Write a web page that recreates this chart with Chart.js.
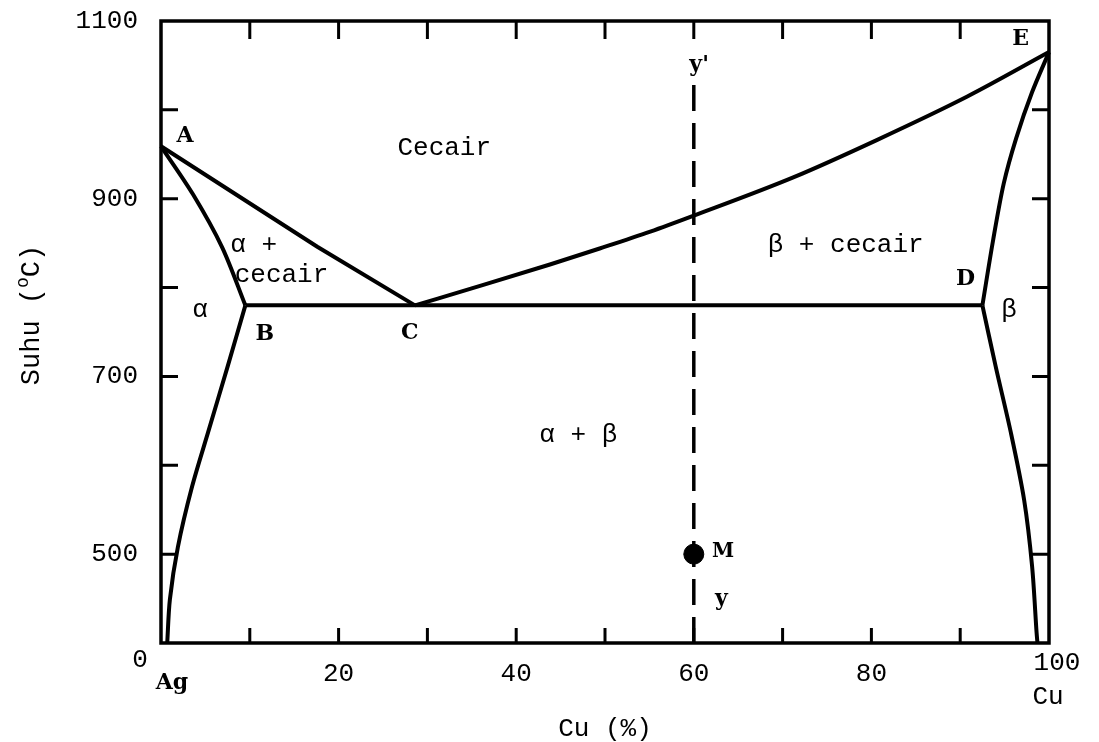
<!DOCTYPE html>
<html>
<head>
<meta charset="utf-8">
<script src="https://cdn.jsdelivr.net/npm/chart.js@4.4.1/dist/chart.umd.min.js"></script>
<style>
    html, body { margin: 0; padding: 0; background: #fff; }
    canvas { display: block; }
</style>
</head>
<body>
<canvas id="phaseChart" width="1099" height="742"></canvas>
<script>
// Ag-Cu phase diagram, points are [Cu %, suhu °C]
const liquidusAC = [[0, 959], [17.6, 846], [28.6, 780]];
const liquidusCE = [[28.6, 780], [36.3, 803], [43.8, 826], [49.4, 844], [55.1, 863], [60, 881],
                    [71.2, 924], [80.6, 966], [90.8, 1015], [100, 1065]];
const solidusAB = [[0, 959], [3.6, 905], [6.9, 845], [9.5, 780]];
const solvusB = [[9.5, 780], [7.5, 711], [5.3, 637], [3.5, 576], [1.9, 508], [1.0, 449], [0.7, 400]];
const eutectic = [[9.5, 780], [92.5, 780]];
const solidusDE = [[92.5, 780], [93.7, 853], [94.9, 917], [96.3, 968], [98.1, 1020], [100, 1065]];
const solvusD = [[92.5, 780], [94.0, 711], [95.7, 637], [97.2, 561], [98.1, 486], [98.6, 412], [98.7, 400]];
const lineYY = [[60, 400], [60, 1037]];
const pointM = [[60, 500]];

const xTicks = [0, 10, 20, 30, 40, 50, 60, 70, 80, 90, 100];
const xTickLabels = { 20: '20', 40: '40', 60: '60', 80: '80' };
const yTicks = [400, 500, 600, 700, 800, 900, 1000, 1100];
const yTickLabels = { 500: '500', 700: '700', 900: '900', 1100: '1100' };

const MONO = '"Liberation Mono", "DejaVu Sans Mono", monospace';
const SERIF = '"DejaVu Serif", "Liberation Serif", serif';

// region / point labels: [text, x, y, font, align]
const annotations = [
    ['A', 2.7, 970, 'bold 22px ' + SERIF, 'center'],
    ['Cecair', 31.9, 957, '26px ' + MONO, 'center'],
    ['\u03b1 +', 7.8, 848, '26px ' + MONO, 'left'],
    ['cecair', 8.3, 814, '26px ' + MONO, 'left'],
    ['\u03b1', 4.4, 775, '26px ' + MONO, 'center'],
    ['B', 11.7, 747, 'bold 22px ' + SERIF, 'center'],
    ['C', 28, 749, 'bold 22px ' + SERIF, 'center'],
    ['D', 90.6, 809, 'bold 22px ' + SERIF, 'center'],
    ['\u03b2', 95.5, 775, '26px ' + MONO, 'center'],
    ['E', 96.8, 1079, 'bold 22px ' + SERIF, 'center'],
    ["y'", 60.6, 1050, 'bold 22px ' + SERIF, 'center'],
    ['\u03b2 + cecair', 77.1, 848, '26px ' + MONO, 'center'],
    ['\u03b1 + \u03b2', 47, 634, '26px ' + MONO, 'center'],
    ['M', 63.3, 503, 'bold 20px ' + SERIF, 'center'],
    ['y', 63.1, 449, 'bold 22px ' + SERIF, 'center']
];

const toPts = arr => arr.map(p => ({ x: p[0], y: p[1] }));

// mode: 'straight', 'monotone' or a spline tension number
function curve(data, mode) {
    return {
        data: toPts(data),
        showLine: true,
        borderColor: '#000',
        borderWidth: 4,
        pointRadius: 0,
        fill: false,
        cubicInterpolationMode: mode === 'monotone' ? 'monotone' : 'default',
        tension: typeof mode === 'number' ? mode : 0,
        clip: false
    };
}

// frame, inward ticks, loose labels and rotated y title
const decorPlugin = {
    id: 'decor',
    afterDatasetsDraw(chart) {
        const ctx = chart.ctx;
        const area = chart.chartArea;
        const xs = chart.scales.x;
        const ys = chart.scales.y;
        ctx.save();
        ctx.strokeStyle = '#000';
        ctx.lineWidth = 3.5;
        ctx.strokeRect(area.left, area.top, area.right - area.left, area.bottom - area.top);

        ctx.lineWidth = 3;
        ctx.beginPath();
        xTicks.slice(1, -1).forEach(v => {
            const px = xs.getPixelForValue(v);
            ctx.moveTo(px, area.bottom); ctx.lineTo(px, area.bottom - 15);
            ctx.moveTo(px, area.top); ctx.lineTo(px, area.top + 18);
        });
        yTicks.slice(1, -1).forEach(v => {
            const py = ys.getPixelForValue(v);
            ctx.moveTo(area.left, py); ctx.lineTo(area.left + 17, py);
            ctx.moveTo(area.right, py); ctx.lineTo(area.right - 17, py);
        });
        ctx.stroke();

        ctx.fillStyle = '#000';
        ctx.textBaseline = 'middle';
        annotations.forEach(a => {
            ctx.font = a[3];
            ctx.textAlign = a[4];
            ctx.fillText(a[0], xs.getPixelForValue(a[1]), ys.getPixelForValue(a[2]));
        });

        // corner labels of the axes
        ctx.font = '26px ' + MONO;
        ctx.textAlign = 'center';
        ctx.fillText('0', area.left - 21, area.bottom + 17);
        ctx.fillText('100', area.right + 8, area.bottom + 20);
        ctx.fillText('Cu', area.right - 1, area.bottom + 54);
        ctx.font = 'bold 22px ' + SERIF;
        ctx.fillText('Ag', area.left + 11, area.bottom + 40);

        // y title with superscript o
        ctx.translate(32, 315);
        ctx.rotate(-Math.PI / 2);
        ctx.font = '27px ' + MONO;
        const p1 = 'Suhu (', p3 = 'C)';
        const w1 = ctx.measureText(p1).width;
        const w3 = ctx.measureText(p3).width;
        ctx.font = '18px ' + MONO;
        const w2 = ctx.measureText('o').width;
        const start = -(w1 + w2 + w3) / 2;
        ctx.textAlign = 'left';
        ctx.fillText('o', start + w1, -9);
        ctx.font = '27px ' + MONO;
        ctx.fillText(p1, start, 0);
        ctx.fillText(p3, start + w1 + w2, 0);
        ctx.restore();
    }
};

Chart.defaults.color = '#000';

const chart = new Chart(document.getElementById('phaseChart'), {
    type: 'scatter',
    data: {
        datasets: [
            curve(liquidusAC, 'straight'),
            curve(liquidusCE, 'monotone'),
            curve(solidusAB, 0.3),
            curve(solvusB, 0.3),
            curve(eutectic, 'straight'),
            curve(solidusDE, 0.3),
            curve(solvusD, 0.3),
            Object.assign(curve(lineYY, 'straight'), { borderWidth: 3.5, borderDash: [26, 12] }),
            {
                data: toPts(pointM),
                pointRadius: 10,
                pointBackgroundColor: '#000',
                pointBorderColor: '#000',
                showLine: false
            }
        ]
    },
    plugins: [decorPlugin],
    options: {
        responsive: false,
        animation: false,
        layout: { padding: { left: 0, top: 21, right: 50, bottom: 0 } },
        plugins: {
            legend: { display: false },
            tooltip: { enabled: false }
        },
        scales: {
            x: {
                type: 'linear',
                min: 0,
                max: 100,
                grid: { display: false, drawTicks: false },
                border: { display: false },
                afterBuildTicks: scale => { scale.ticks = xTicks.map(v => ({ value: v })); },
                afterFit: scale => {
                    scale.height = 99;
                    scale.paddingLeft = 0;
                    scale.paddingRight = 0;
                },
                ticks: {
                    autoSkip: false,
                    maxRotation: 0,
                    padding: 16,
                    font: { family: MONO, size: 26 },
                    callback: v => xTickLabels[v] || ''
                },
                title: {
                    display: true,
                    text: 'Cu (%)',
                    font: { family: MONO, size: 26 },
                    padding: { top: 0, bottom: -3 }
                }
            },
            y: {
                type: 'linear',
                min: 400,
                max: 1100,
                grid: { display: false, drawTicks: false },
                border: { display: false },
                afterBuildTicks: scale => { scale.ticks = yTicks.map(v => ({ value: v })); },
                afterFit: scale => {
                    scale.width = 161;
                    scale.paddingTop = 0;
                    scale.paddingBottom = 0;
                },
                ticks: {
                    autoSkip: false,
                    padding: 23,
                    font: { family: MONO, size: 26 },
                    callback: v => yTickLabels[v] || ''
                }
            }
        }
    }
});
</script>
</body>
</html>
